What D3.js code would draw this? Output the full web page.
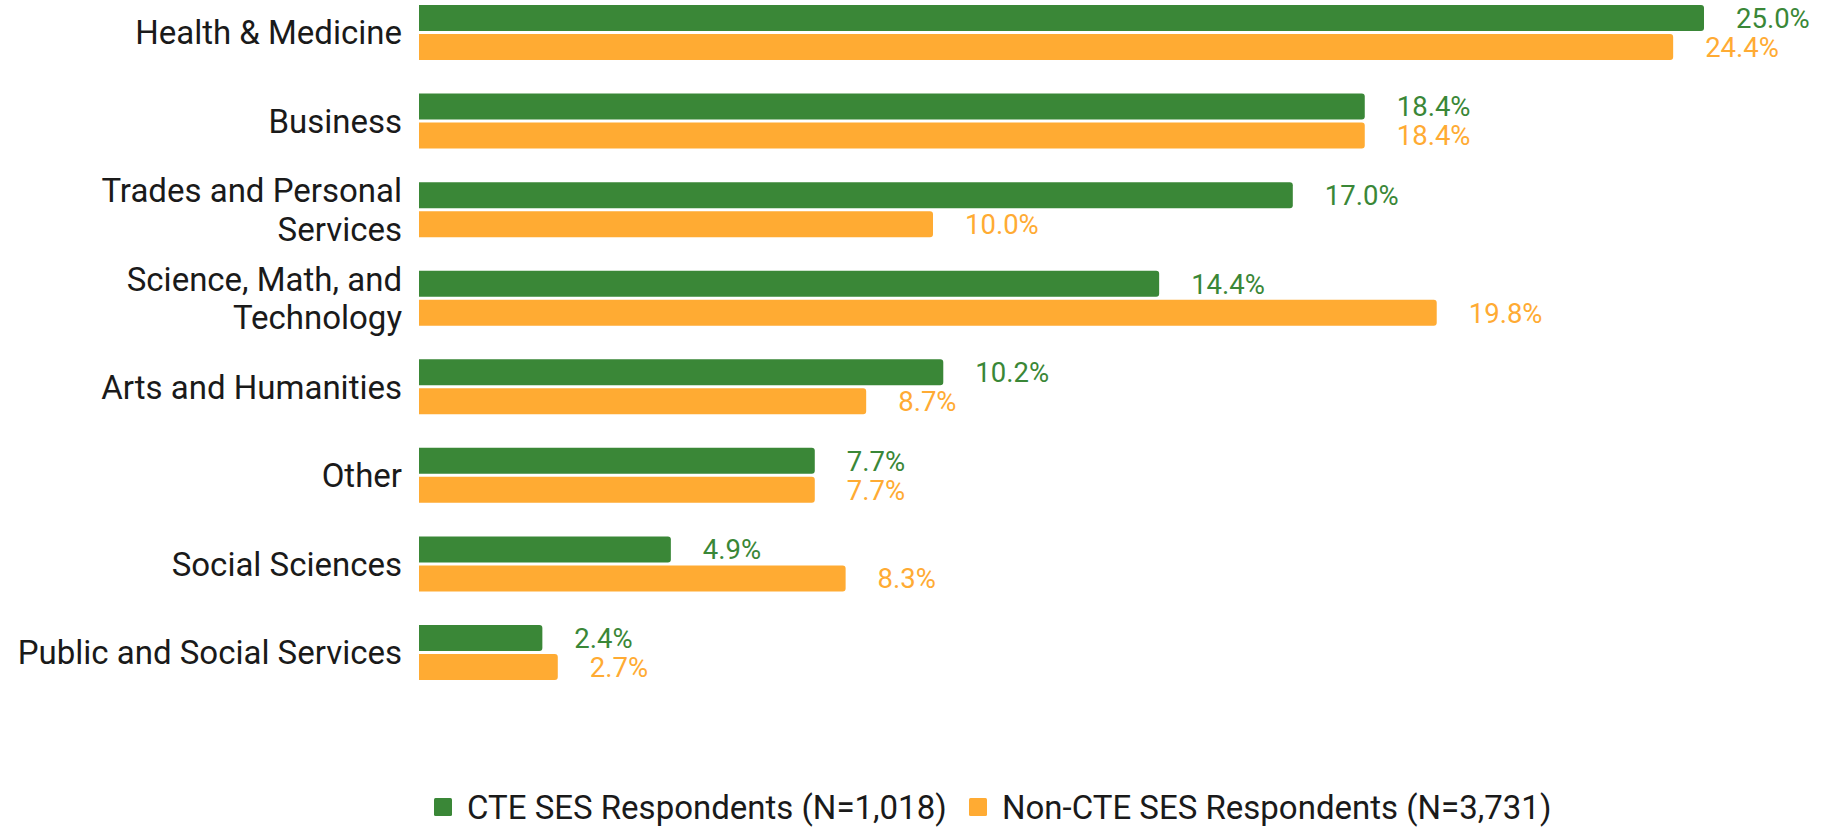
<!DOCTYPE html>
<html>
<head>
<meta charset="utf-8">
<script src="https://cdn.jsdelivr.net/npm/d3@7"></script>
<style>
  html, body { margin: 0; padding: 0; background: #fff; }
  svg { display: block; font-family: Roboto, "Noto Sans", sans-serif; }
</style>
</head>
<body>
<svg id="chart" width="1830" height="829"></svg>
<script>
// Fields of study, top to bottom ("\n" marks a line break in the label)
const categories = [
  "Health & Medicine",
  "Business",
  "Trades and Personal\nServices",
  "Science, Math, and\nTechnology",
  "Arts and Humanities",
  "Other",
  "Social Sciences",
  "Public and Social Services"
];
// Share of respondents (%) per field
const cteValues    = [25.0, 18.4, 17.0, 14.4, 10.2, 7.7, 4.9, 2.4];
const nonCteValues = [24.4, 18.4, 10.0, 19.8, 8.7, 7.7, 8.3, 2.7];
const seriesNames  = ["CTE SES Respondents (N=1,018)", "Non-CTE SES Respondents (N=3,731)"];
const seriesColors = ["#3a8737", "#ffab33"];

const svg = d3.select("#chart");
const left = 419, right0 = 1704;

const x = d3.scaleLinear().domain([0, 25]).range([left, right0]);
const y = d3.scaleBand().domain(categories).range([5, 680]).paddingInner(0.379).paddingOuter(0);
const ySub = d3.scaleBand().domain([0, 1]).range([0, y.bandwidth()]).paddingInner(0.1034);

const rows = categories.map((c, i) => ({ cat: c, vals: [cteValues[i], nonCteValues[i]] }));

// bar with rounded right end
function barPath(x0, y0, w, h, r) {
  r = Math.min(r, w, h / 2);
  return `M${x0},${y0}H${x0 + w - r}A${r},${r} 0 0 1 ${x0 + w},${y0 + r}` +
         `V${y0 + h - r}A${r},${r} 0 0 1 ${x0 + w - r},${y0 + h}H${x0}Z`;
}

const g = svg.selectAll("g.row").data(rows).join("g")
  .attr("class", "row")
  .attr("transform", d => `translate(0,${y(d.cat)})`);

g.selectAll("path.bar").data(d => d.vals.map((v, s) => ({ v, s }))).join("path")
  .attr("class", "bar")
  .attr("fill", d => seriesColors[d.s])
  .attr("d", d => barPath(x(0), ySub(d.s), x(d.v) - x(0), ySub.bandwidth(), 3));

g.selectAll("text.val").data(d => d.vals.map((v, s) => ({ v, s }))).join("text")
  .attr("class", "val")
  .attr("x", d => x(d.v) + 32)
  .attr("y", d => ySub(d.s) + ySub.bandwidth() / 2)
  .attr("dy", "0.36em")
  .attr("fill", d => seriesColors[d.s])
  .style("font-size", "27.5px")
  .text(d => d.v.toFixed(1) + "%");

// category labels
g.each(function(d) {
  const lines = d.cat.split("\n");
  const lh = 38.5;
  const cy = y.bandwidth() / 2;
  const t = d3.select(this).append("text")
    .attr("text-anchor", "end")
    .attr("fill", "#1a1a1a")
    .style("font-size", "33px");
  lines.forEach((ln, k) => {
    t.append("tspan")
      .attr("x", 402)
      .attr("y", cy + (k - (lines.length - 1) / 2) * lh)
      .attr("dy", "0.36em")
      .text(ln);
  });
});

// legend
const legendX = [434, 969];
const lg = svg.append("g").selectAll("g").data(seriesNames).join("g")
  .attr("transform", (d, i) => `translate(${legendX[i]},798)`);
lg.append("rect").attr("width", 18).attr("height", 18).attr("rx", 1.5)
  .attr("fill", (d, i) => seriesColors[i]);
lg.append("text").attr("x", 33).attr("y", 9).attr("dy", "0.36em")
  .attr("fill", "#1a1a1a").style("font-size", "33px").text(d => d);
</script>
</body>
</html>
